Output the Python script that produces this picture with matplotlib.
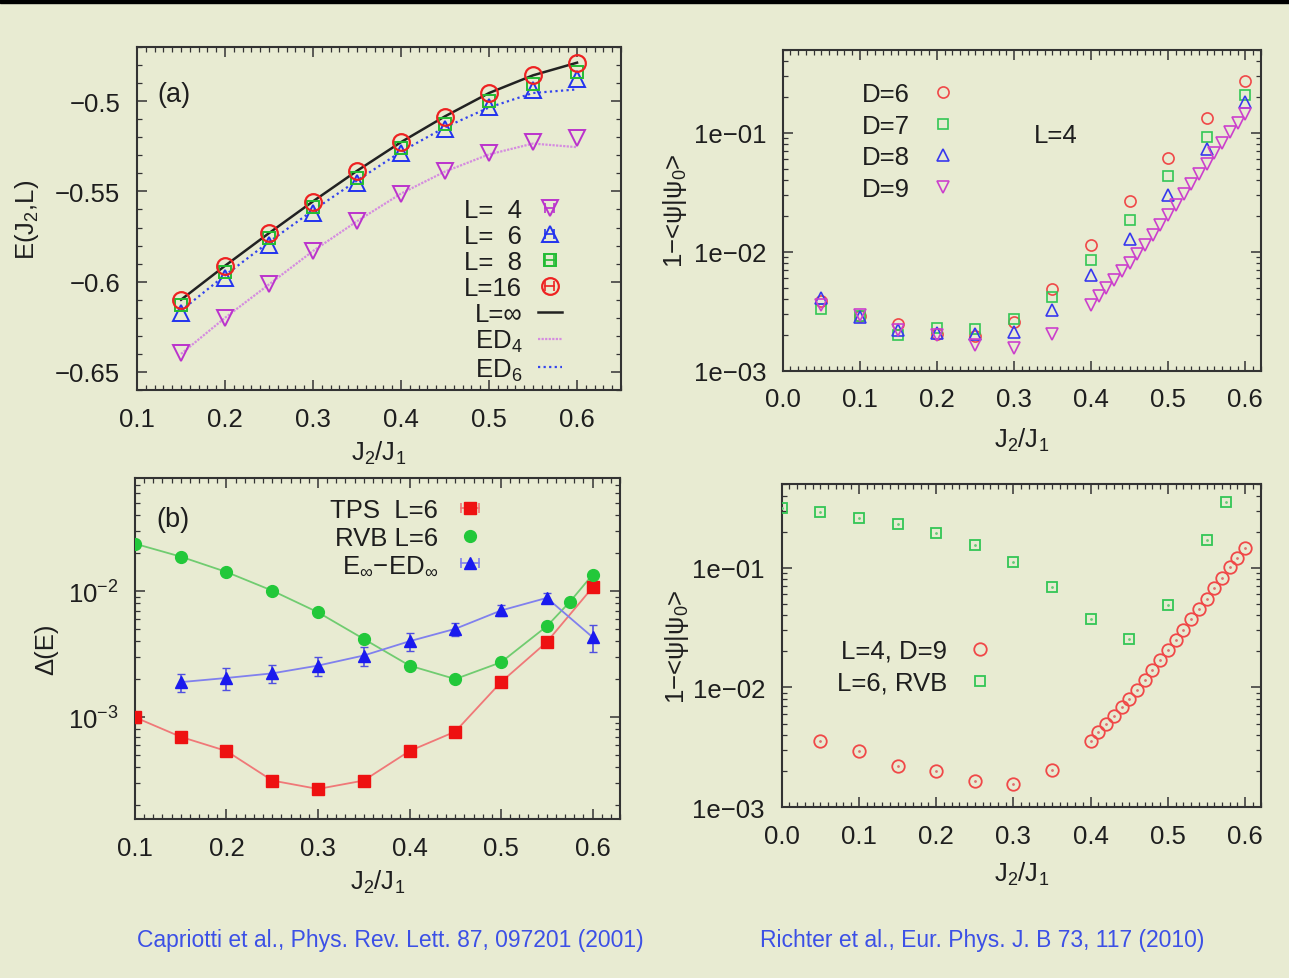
import matplotlib
matplotlib.use("Agg")
import matplotlib.pyplot as plt
from matplotlib.lines import Line2D
from matplotlib.patches import Rectangle
from matplotlib.legend_handler import HandlerLine2D
from matplotlib.ticker import MultipleLocator, FixedLocator, LogLocator, NullFormatter

plt.rcParams['font.family'] = ['Liberation Sans', 'DejaVu Sans']
plt.rcParams['mathtext.fontset'] = 'custom'
plt.rcParams['mathtext.rm'] = 'Liberation Sans'
plt.rcParams['mathtext.it'] = 'Liberation Sans'
plt.rcParams['mathtext.default'] = 'regular'
plt.rcParams['axes.unicode_minus'] = True

# ---- (a) ground state energy vs J2/J1 ----
j2_a = [0.15, 0.20, 0.25, 0.30, 0.35, 0.40, 0.45, 0.50, 0.55, 0.60]
e_L4 = [-0.6397, -0.6203, -0.6015, -0.5831, -0.5665, -0.5512, -0.5388, -0.5290, -0.5229, -0.5205]
e_L6 = [-0.6176, -0.5978, -0.5797, -0.5622, -0.5456, -0.5290, -0.5152, -0.5033, -0.4941, -0.4880]
e_L8 = [-0.6130, -0.5945, -0.5760, -0.5589, -0.5428, -0.5262, -0.5124, -0.4997, -0.4904, -0.4840]
e_L16 = [-0.6102, -0.5914, -0.5733, -0.5557, -0.5388, -0.5229, -0.5086, -0.4956, -0.4858, -0.4788]
e_inf = [-0.6100, -0.5912, -0.5731, -0.5555, -0.5386, -0.5227, -0.5084, -0.4955, -0.4857, -0.4787]
ed_4 = [-0.6400, -0.6200, -0.6015, -0.5830, -0.5665, -0.5512, -0.5390, -0.5295, -0.5235, -0.5255]
ed_6 = [-0.6160, -0.5965, -0.5780, -0.5605, -0.5440, -0.5280, -0.5145, -0.5035, -0.4955, -0.4935]

# ---- (b) energy error ----
j2_tps = [0.10, 0.15, 0.20, 0.25, 0.30, 0.35, 0.40, 0.45, 0.50, 0.55, 0.60]
d_tps = [1.00e-3, 7.0e-4, 5.4e-4, 3.15e-4, 2.7e-4, 3.15e-4, 5.4e-4, 7.7e-4, 1.9e-3, 3.95e-3, 1.07e-2]
j2_rvb = [0.10, 0.15, 0.20, 0.25, 0.30, 0.35, 0.40, 0.45, 0.50, 0.55, 0.575, 0.60]
d_rvb = [2.38e-2, 1.88e-2, 1.42e-2, 1.01e-2, 6.8e-3, 4.18e-3, 2.57e-3, 2.01e-3, 2.73e-3, 5.27e-3, 8.2e-3, 1.35e-2]
j2_ed = [0.15, 0.20, 0.25, 0.30, 0.35, 0.40, 0.45, 0.50, 0.55, 0.60]
d_ed = [1.90e-3, 2.05e-3, 2.23e-3, 2.57e-3, 3.09e-3, 4.01e-3, 5.03e-3, 7.03e-3, 8.85e-3, 4.32e-3]
d_ed_err = [0.3e-3, 0.4e-3, 0.35e-3, 0.45e-3, 0.55e-3, 0.65e-3, 0.6e-3, 0.7e-3, 0.8e-3, 1.05e-3]

# ---- fidelity, L=4 ----
j2_d = [0.05, 0.10, 0.15, 0.20, 0.25, 0.30, 0.35, 0.40, 0.45, 0.50, 0.55, 0.60]
f_D6 = [3.86e-3, 2.89e-3, 2.49e-3, 2.02e-3, 1.95e-3, 2.57e-3, 4.91e-3, 1.14e-2, 2.66e-2, 6.12e-2, 0.133, 0.272]
f_D7 = [3.29e-3, 2.89e-3, 1.99e-3, 2.30e-3, 2.23e-3, 2.71e-3, 4.20e-3, 8.5e-3, 1.85e-2, 4.31e-2, 9.31e-2, 0.209]
f_D8 = [4.12e-3, 2.83e-3, 2.19e-3, 2.09e-3, 2.02e-3, 2.13e-3, 3.24e-3, 6.4e-3, 1.28e-2, 3.0e-2, 7.33e-2, 0.181]
j2_d9 = [0.05, 0.10, 0.15, 0.20, 0.25, 0.30, 0.35,
         0.40, 0.41, 0.42, 0.43, 0.44, 0.45, 0.46, 0.47, 0.48, 0.49, 0.50,
         0.51, 0.52, 0.53, 0.54, 0.55, 0.56, 0.57, 0.58, 0.59, 0.60]
f_D9 = [3.6e-3, 2.95e-3, 2.2e-3, 1.99e-3, 1.66e-3, 1.55e-3, 2.03e-3,
        3.6e-3, 4.23e-3, 4.97e-3, 5.83e-3, 6.84e-3, 8.03e-3, 9.55e-3, 1.145e-2, 1.388e-2, 1.683e-2, 2.04e-2,
        2.48e-2, 3.04e-2, 3.71e-2, 4.51e-2, 5.46e-2, 6.71e-2, 8.24e-2, 0.1007, 0.1213, 0.1452]

# ---- fidelity, RVB L=6 ----
j2_rvbf = [0.0, 0.05, 0.10, 0.15, 0.20, 0.25, 0.30, 0.35, 0.40, 0.45, 0.50, 0.55, 0.575]
f_rvb = [0.314, 0.291, 0.262, 0.231, 0.196, 0.155, 0.112, 6.93e-2, 3.76e-2, 2.56e-2, 4.93e-2, 0.171, 0.351]

bg = '#E8EBD2'
ink = '#1E1E1E'
cite_blue = '#3C50E6'
red, green, blue, purple = '#EE2222', '#22BB33', '#2233EE', '#BB33CC'
fs = 18.5

fig = plt.figure(figsize=(12.89, 9.79), dpi=100, facecolor=bg)
fig.patches.append(Rectangle((0, 1 - 4 / 979), 1, 4 / 979, transform=fig.transFigure,
                             color='black', zorder=10))

ax_a = fig.add_axes([0.1063, 0.6006, 0.3755, 0.3504])
ax_f = fig.add_axes([0.6072, 0.6203, 0.3708, 0.3279])
ax_b = fig.add_axes([0.1047, 0.1624, 0.3763, 0.3483])
ax_r = fig.add_axes([0.6064, 0.1744, 0.3716, 0.3302])


def style(ax):
    ax.set_facecolor('none')
    for s in ax.spines.values():
        s.set_linewidth(1.5)
        s.set_color('#333333')
    ax.tick_params(which='both', direction='in', top=True, right=True,
                   colors='#333333', labelcolor=ink, labelsize=fs)
    ax.tick_params(which='major', length=7, width=1.1)
    ax.tick_params(which='minor', length=3.5, width=0.9)
    ax.tick_params(axis='x', pad=12)
    ax.tick_params(axis='y', pad=12)


def cap_line(color, lw=1.2):
    return Line2D([], [], color=color, lw=lw, marker='|', ms=7, mew=lw)


for ax in (ax_a, ax_f, ax_b, ax_r):
    style(ax)

# (a)
ax_a.plot(j2_a, e_inf, color='#222222', lw=1.8, zorder=2)
ax_a.plot(j2_a, ed_4, color='#D58CE0', lw=1.6, ls=(0, (1, 0.6)), zorder=2)
ax_a.plot(j2_a, ed_6, color='#3344EE', lw=1.6, ls=(0, (1, 1.5)), zorder=2)
ax_a.plot(j2_a, e_L4, 'v', ms=11, mfc='none', mec=purple, mew=1.4, zorder=3)
ax_a.plot(j2_a, e_L6, '^', ms=11, mfc='none', mec=blue, mew=1.4, zorder=3)
ax_a.plot(j2_a, e_L8, 's', ms=9, mfc='none', mec=green, mew=1.4, zorder=3)
ax_a.plot(j2_a, e_L16, 'o', ms=12, mfc='none', mec=red, mew=1.6, zorder=4)
ax_a.set_xlim(0.1, 0.65)
ax_a.set_ylim(-0.66, -0.47)
ax_a.xaxis.set_major_locator(FixedLocator([0.1, 0.2, 0.3, 0.4, 0.5, 0.6]))
ax_a.xaxis.set_minor_locator(MultipleLocator(0.01))
ax_a.yaxis.set_major_locator(FixedLocator([-0.65, -0.6, -0.55, -0.5]))
ax_a.yaxis.set_minor_locator(MultipleLocator(0.01))
ax_a.set_xticklabels(['0.1', '0.2', '0.3', '0.4', '0.5', '0.6'])
ax_a.set_yticklabels(['\u22120.65', '\u22120.6', '\u22120.55', '\u22120.5'])
ax_a.set_xlabel('J$_2$/J$_1$', fontsize=fs, color=ink)
ax_a.set_ylabel('E(J$_2$,L)', fontsize=fs, color=ink)
ax_a.xaxis.set_label_coords(0.5, -0.143)
ax_a.yaxis.set_label_coords(-0.198, 0.5)
ax_a.text(0.076, 0.863, '(a)', transform=ax_a.transAxes, fontsize=fs + 1,
          ha='center', va='center', color=ink)

caps_a = [cap_line(purple), cap_line(blue), cap_line(green), cap_line(red)]
mk_a = [Line2D([], [], ls='none', marker='v', ms=11, mfc='none', mec=purple, mew=1.4),
        Line2D([], [], ls='none', marker='^', ms=11, mfc='none', mec=blue, mew=1.4),
        Line2D([], [], ls='none', marker='s', ms=9, mfc='none', mec=green, mew=1.4),
        Line2D([], [], ls='none', marker='o', ms=12, mfc='none', mec=red, mew=1.6)]
handles_a = [(c, m) for c, m in zip(caps_a, mk_a)] + [
    Line2D([], [], color='#222222', lw=1.8),
    Line2D([], [], color='#D58CE0', lw=1.6, ls=(0, (1, 0.6))),
    Line2D([], [], color='#3344EE', lw=1.6, ls=(0, (1, 1.5)))]
labels_a = ['L=  4', 'L=  6', 'L=  8', 'L=16', 'L=\u221e', 'ED$_4$', 'ED$_6$']
ax_a.legend(handles_a, labels_a, loc='upper right', bbox_to_anchor=(0.878, 0.560),
            frameon=False, markerfirst=False, fontsize=fs, borderpad=0,
            handlelength=0.95, handletextpad=0.6, labelspacing=0.08, borderaxespad=0,
            labelcolor=ink, handler_map={c: HandlerLine2D(numpoints=2) for c in caps_a})

# fidelity, L=4
ax_f.plot(j2_d, f_D6, 'o', ms=8, mfc='none', mec='#F04848', mew=1.2, zorder=3)
ax_f.plot(j2_d, f_D7, 's', ms=6.5, mfc='none', mec='#33C655', mew=1.2, zorder=3)
ax_f.plot(j2_d, f_D8, '^', ms=9, mfc='none', mec='#3838EE', mew=1.2, zorder=3)
ax_f.plot(j2_d9, f_D9, 'v', ms=9, mfc='none', mec='#CC40CC', mew=1.2, zorder=3)
ax_f.set_yscale('log')
ax_f.set_xlim(0.0, 0.62)
ax_f.set_ylim(1e-3, 0.5)

# fidelity, comparison with RVB
ax_r.plot(j2_d9, f_D9, 'o', ms=9, mfc='none', mec='#F04848', mew=1.3, zorder=3)
ax_r.plot(j2_d9, f_D9, '.', ms=2, color='#E07070', zorder=3)
ax_r.plot(j2_rvbf, f_rvb, 's', ms=7.5, mfc='none', mec='#33C655', mew=1.3, zorder=3)
ax_r.plot(j2_rvbf, f_rvb, '.', ms=2, color='#66CC77', zorder=3)
ax_r.set_yscale('log')
ax_r.set_xlim(0.0, 0.62)
ax_r.set_ylim(1e-3, 0.5)

for ax in (ax_f, ax_r):
    ax.xaxis.set_major_locator(FixedLocator([0.0, 0.1, 0.2, 0.3, 0.4, 0.5, 0.6]))
    ax.set_xticklabels(['0.0', '0.1', '0.2', '0.3', '0.4', '0.5', '0.6'])
    ax.xaxis.set_minor_locator(MultipleLocator(0.01))
    ax.yaxis.set_major_locator(FixedLocator([1e-3, 1e-2, 1e-1]))
    ax.set_yticklabels(['1e\u221203', '1e\u221202', '1e\u221201'])
    ax.yaxis.set_minor_locator(LogLocator(base=10, subs=range(2, 10)))
    ax.yaxis.set_minor_formatter(NullFormatter())
    ax.set_xlabel('J$_2$/J$_1$', fontsize=fs, color=ink)
    ax.set_ylabel('1\u2212<\u03c8|\u03c8$_0$>', fontsize=fs, color=ink)

ax_f.xaxis.set_label_coords(0.5, -0.172)
ax_f.yaxis.set_label_coords(-0.195, 0.5)
ax_r.xaxis.set_label_coords(0.5, -0.162)
ax_r.yaxis.set_label_coords(-0.190, 0.5)
ax_f.text(0.571, 0.735, 'L=4', transform=ax_f.transAxes, fontsize=fs,
          ha='center', va='center', color=ink)

h_f = [Line2D([], [], ls='none', marker='o', ms=8, mfc='none', mec='#F04848', mew=1.2),
       Line2D([], [], ls='none', marker='s', ms=6.5, mfc='none', mec='#33C655', mew=1.2),
       Line2D([], [], ls='none', marker='^', ms=9, mfc='none', mec='#3838EE', mew=1.2),
       Line2D([], [], ls='none', marker='v', ms=9, mfc='none', mec='#CC40CC', mew=1.2)]
ax_f.legend(h_f, ['D=6', 'D=7', 'D=8', 'D=9'], loc='upper left',
            bbox_to_anchor=(0.165, 0.900), frameon=False, markerfirst=False,
            fontsize=fs, borderpad=0, borderaxespad=0, handlelength=1.3,
            handletextpad=0.65, labelspacing=0.3, labelcolor=ink)

h_r = [Line2D([], [], ls='none', marker='o', ms=9, mfc='none', mec='#F04848', mew=1.3),
       Line2D([], [], ls='none', marker='s', ms=7.5, mfc='none', mec='#33C655', mew=1.3)]
ax_r.legend(h_r, ['L=4, D=9', 'L=6, RVB'], loc='upper left',
            bbox_to_anchor=(0.115, 0.522), frameon=False, markerfirst=False,
            fontsize=fs, borderpad=0, borderaxespad=0, handlelength=1.3,
            handletextpad=0.65, labelspacing=0.32, labelcolor=ink)

# (b)
ax_b.plot(j2_tps, d_tps, '-', color='#F07878', lw=1.3, zorder=2)
ax_b.plot(j2_tps, d_tps, 's', ms=8, color='#EE1111', zorder=3)
ax_b.plot(j2_rvb, d_rvb, '-', color='#70CC70', lw=1.3, zorder=2)
ax_b.plot(j2_rvb, d_rvb, 'o', ms=8.5, color='#22C83A', zorder=3)
ax_b.errorbar(j2_ed, d_ed, yerr=d_ed_err, fmt='-', color='#8080EE', lw=1.3,
              elinewidth=1.2, capsize=3, ecolor='#5050E0', zorder=2)
ax_b.plot(j2_ed, d_ed, '^', ms=9, color='#1A1AEE', zorder=3)
ax_b.set_yscale('log')
ax_b.set_xlim(0.1, 0.63)
ax_b.set_ylim(1.56e-4, 7.9e-2)
ax_b.xaxis.set_major_locator(FixedLocator([0.1, 0.2, 0.3, 0.4, 0.5, 0.6]))
ax_b.set_xticklabels(['0.1', '0.2', '0.3', '0.4', '0.5', '0.6'])
ax_b.xaxis.set_minor_locator(MultipleLocator(0.01))
ax_b.yaxis.set_major_locator(FixedLocator([1e-3, 1e-2]))
ax_b.set_yticklabels(['10$^{\u22123}$', '10$^{\u22122}$'])
ax_b.yaxis.set_minor_locator(LogLocator(base=10, subs=range(2, 10)))
ax_b.yaxis.set_minor_formatter(NullFormatter())
ax_b.set_xlabel('J$_2$/J$_1$', fontsize=fs, color=ink)
ax_b.set_ylabel('\u0394(E)', fontsize=fs, color=ink)
ax_b.xaxis.set_label_coords(0.5, -0.142)
ax_b.yaxis.set_label_coords(-0.158, 0.5)
ax_b.text(0.078, 0.880, '(b)', transform=ax_b.transAxes, fontsize=fs + 1,
          ha='center', va='center', color=ink)

caps_b = [cap_line('#F07878'), cap_line('#8080EE')]
h_b = [(caps_b[0], Line2D([], [], ls='none', marker='s', ms=8, color='#EE1111')),
       Line2D([], [], ls='none', marker='o', ms=8.5, color='#22C83A'),
       (caps_b[1], Line2D([], [], ls='none', marker='^', ms=9, color='#1A1AEE'))]
ax_b.legend(h_b, ['TPS  L=6', 'RVB L=6', 'E$_\u221e$\u2212ED$_\u221e$'], loc='upper right',
            bbox_to_anchor=(0.726, 0.940), frameon=False, markerfirst=False,
            fontsize=fs, borderpad=0, borderaxespad=0, handlelength=1.3,
            handletextpad=0.6, labelspacing=0.12, labelcolor=ink,
            handler_map={c: HandlerLine2D(numpoints=2) for c in caps_b})

# references under each column
fig.text(390 / 1289, 1 - 940 / 979, 'Capriotti et al., Phys. Rev. Lett. 87, 097201 (2001)',
         family=['Liberation Sans Narrow', 'Liberation Sans'], fontsize=16.5,
         color=cite_blue, ha='center', va='center')
fig.text(982 / 1289, 1 - 940 / 979, 'Richter et al., Eur. Phys. J. B 73, 117 (2010)',
         family=['Liberation Sans Narrow', 'Liberation Sans'], fontsize=16.5,
         color=cite_blue, ha='center', va='center')

fig.savefig('out.png', dpi=100, facecolor=bg)
